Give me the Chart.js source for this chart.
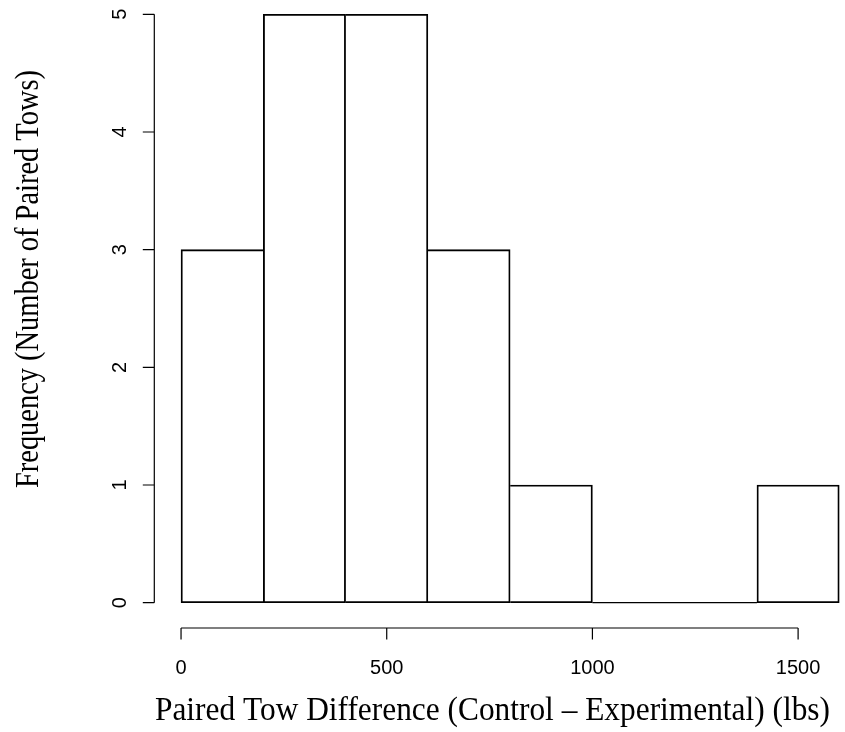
<!DOCTYPE html>
<html>
<head>
<meta charset="utf-8">
<script src="https://cdn.jsdelivr.net/npm/chart.js@4/dist/chart.umd.min.js"></script>
<style>
  html, body { margin: 0; padding: 0; background: #fff; overflow: hidden; }
  canvas { display: block; }
</style>
</head>
<body>
<canvas id="hist" width="845" height="732"></canvas>
<script>
// Histogram bins (lbs) and counts of paired tows
const binStarts = [0, 200, 400, 600, 800, 1000, 1200, 1400];
const binWidth = 200;
const counts = [3, 5, 5, 3, 1, 0, 0, 1];

// Axis ticks and titles
const xTicks = [0, 500, 1000, 1500];
const yTicks = [0, 1, 2, 3, 4, 5];
const xTitle = 'Paired Tow Difference (Control \u2013 Experimental) (lbs)';
const yTitle = 'Frequency (Number of Paired Tows)';

// Styling
const LW = 1.2;
const TICK_FONT = '20px "Liberation Sans", Arial, Helvetica, sans-serif';
const TITLE_FONT = '33px "Liberation Serif", "Times New Roman", serif';

const barData = binStarts.map((s, i) => ({ x: s + binWidth / 2, y: counts[i] }));

// Empty bins are still outlined along the baseline
const zeroSegs = [];
binStarts.forEach((s, i) => {
  if (counts[i] === 0) {
    zeroSegs.push({ x: s, y: 0 }, { x: s + binWidth, y: 0 }, { x: s + binWidth, y: null });
  }
});

// Each shared bar edge is stroked once, by the taller neighbour
function edgeWidths(ctx) {
  const i = ctx.dataIndex;
  const h = counts[i];
  const prev = i > 0 ? counts[i - 1] : -1;
  const next = i < counts.length - 1 ? counts[i + 1] : -1;
  return {
    top: LW,
    bottom: LW,
    left: (i === 0 || prev < h) ? LW : 0,
    right: (next <= h) ? LW : 0
  };
}

function drawLabel(ctx, text, x, y, font, rot, fitLen) {
  ctx.save();
  ctx.font = font;
  ctx.translate(x, y);
  ctx.rotate(rot);
  if (fitLen) {
    const w = ctx.measureText(text).width;
    ctx.scale(fitLen / w, 1);
  }
  ctx.textAlign = 'center';
  ctx.textBaseline = 'alphabetic';
  ctx.fillText(text, 0, 0);
  ctx.restore();
}

// R-style detached axes: lines span first to last tick only
const baseAxes = {
  id: 'baseAxes',
  afterDraw(chart) {
    const { ctx, chartArea: ca, scales: { x, y } } = chart;
    ctx.save();
    ctx.strokeStyle = '#000';
    ctx.fillStyle = '#000';
    ctx.lineWidth = LW;

    const xs = x.ticks.map(t => x.getPixelForValue(t.value));
    const by = ca.bottom;
    ctx.beginPath();
    ctx.moveTo(xs[0], by);
    ctx.lineTo(xs[xs.length - 1], by);
    xs.forEach(px => { ctx.moveTo(px, by); ctx.lineTo(px, by + 11.5); });
    ctx.stroke();
    x.ticks.forEach((t, i) => drawLabel(ctx, String(t.value), xs[i], 673.5, TICK_FONT, 0));

    const ys = y.ticks.map(t => y.getPixelForValue(t.value));
    const lx = ca.left;
    ctx.beginPath();
    ctx.moveTo(lx, ys[0]);
    ctx.lineTo(lx, ys[ys.length - 1]);
    ys.forEach(py => { ctx.moveTo(lx, py); ctx.lineTo(lx - 11.5, py); });
    ctx.stroke();
    y.ticks.forEach((t, i) => drawLabel(ctx, String(t.value), 126, ys[i], TICK_FONT, -Math.PI / 2));

    drawLabel(ctx, xTitle, 492.5, 719.5, TITLE_FONT, 0, 675);
    drawLabel(ctx, yTitle, 38, 279, TITLE_FONT, -Math.PI / 2, 418);
    ctx.restore();
  }
};

function zeroPadding(s) {
  s.paddingLeft = 0; s.paddingRight = 0; s.paddingTop = 0; s.paddingBottom = 0;
}

new Chart(document.getElementById('hist'), {
  type: 'bar',
  data: {
    datasets: [
      {
        data: barData,
        backgroundColor: 'rgba(255,255,255,0)',
        borderColor: '#000',
        borderWidth: edgeWidths,
        borderSkipped: false,
        barPercentage: 1,
        categoryPercentage: 1
      },
      {
        type: 'line',
        data: zeroSegs,
        borderColor: '#000',
        borderWidth: LW,
        pointRadius: 0,
        spanGaps: false,
        fill: false
      }
    ]
  },
  options: {
    responsive: false,
    devicePixelRatio: 1,
    animation: false,
    events: [],
    layout: { padding: 0 },
    plugins: { legend: { display: false }, tooltip: { enabled: false }, title: { display: false } },
    scales: {
      x: {
        type: 'linear',
        offset: false,
        min: -65,
        max: 1614,
        grid: { display: false },
        border: { display: false },
        ticks: { display: false },
        afterBuildTicks: s => { s.ticks = xTicks.map(v => ({ value: v })); },
        afterFit: s => { s.height = 104; zeroPadding(s); }
      },
      y: {
        type: 'linear',
        min: -0.215,
        max: 5.1215,
        grid: { display: false },
        border: { display: false },
        ticks: { display: false },
        afterBuildTicks: s => { s.ticks = yTicks.map(v => ({ value: v })); },
        afterFit: s => { s.width = 154.3; zeroPadding(s); }
      }
    }
  },
  plugins: [baseAxes]
});
</script>
</body>
</html>
